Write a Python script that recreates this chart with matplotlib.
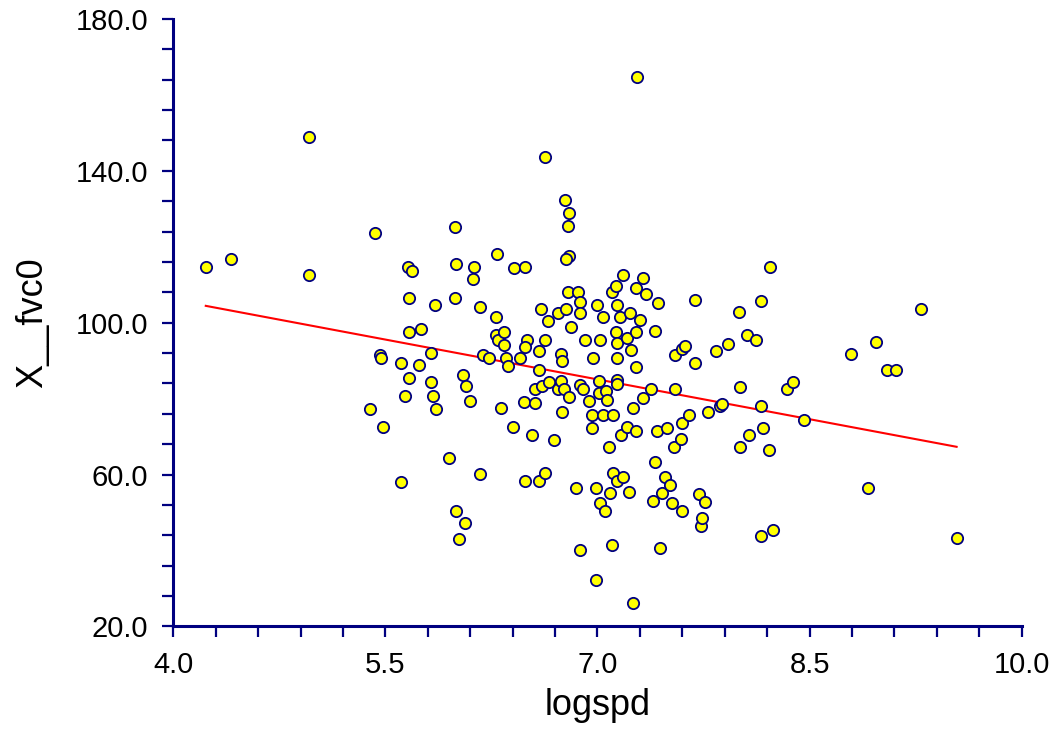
import numpy as np
import matplotlib
matplotlib.use("Agg")
import matplotlib.pyplot as plt
from matplotlib.ticker import FixedLocator, FormatStrFormatter

plt.rcParams["font.family"] = ["Liberation Sans", "DejaVu Sans"]

NAVY = "#000080"
FILL = "#FFFF00"
LINE_RED = "#FF0000"

# logspd values
logspd = [
    4.23, 4.41, 4.96, 4.96, 5.39, 5.48, 5.43, 5.46, 5.47, 5.61,
    5.61, 5.64, 5.66, 5.69, 5.67, 5.67, 5.67, 5.75, 5.74, 5.82,
    5.82, 5.84, 5.85, 5.86, 5.95, 5.99, 6.00, 5.99, 6.00, 6.02,
    6.06, 6.05, 6.07, 6.10, 6.13, 6.12, 6.17, 6.17, 6.19, 6.23,
    6.29, 6.28, 6.28, 6.30, 6.34, 6.34, 6.35, 6.37, 6.32, 6.41,
    6.49, 6.45, 6.40, 6.50, 6.49, 6.48, 6.49, 6.54, 6.56, 6.56,
    6.59, 6.59, 6.59, 6.60, 6.63, 6.63, 6.63, 6.61, 6.65, 6.66,
    6.69, 6.72, 6.72, 6.74, 6.75, 6.74, 6.75, 6.76, 6.77, 6.80,
    6.79, 6.80, 6.78, 6.78, 6.79, 6.81, 6.80, 6.86, 6.88, 6.88,
    6.85, 6.88, 6.90, 6.88, 6.91, 6.94, 6.97, 6.96, 6.96, 6.99,
    6.99, 7.00, 7.01, 7.01, 7.02, 7.02, 7.04, 7.04, 7.05, 7.06,
    7.07, 7.08, 7.09, 7.10, 7.10, 7.11, 7.11, 7.13, 7.13, 7.14,
    7.14, 7.14, 7.14, 7.14, 7.14, 7.16, 7.17, 7.18, 7.18, 7.21,
    7.21, 7.22, 7.23, 7.24, 7.25, 7.25, 7.27, 7.27, 7.27, 7.27,
    7.28, 7.30, 7.32, 7.32, 7.34, 7.38, 7.39, 7.41, 7.41, 7.42,
    7.43, 7.44, 7.46, 7.48, 7.49, 7.51, 7.53, 7.54, 7.55, 7.55,
    7.59, 7.60, 7.60, 7.60, 7.62, 7.65, 7.69, 7.69, 7.72, 7.73,
    7.74, 7.76, 7.78, 7.84, 7.87, 7.88, 7.92, 8.00, 8.01, 8.01,
    8.06, 8.07, 8.12, 8.16, 8.16, 8.17, 8.16, 8.21, 8.22, 8.24,
    8.34, 8.38, 8.46, 8.79, 8.91, 8.97, 9.05, 9.11, 9.29, 9.54,
]

# X__fvc0 values, same order
fvc0 = [
    114.6, 116.8, 148.9, 112.5, 77.4, 72.6, 123.6, 91.4, 90.6, 89.5,
    58.1, 80.7, 114.6, 113.6, 106.5, 97.6, 85.4, 98.4, 88.8, 92.1,
    84.5, 80.7, 104.7, 77.2, 64.3, 125.2, 115.5, 106.6, 50.3, 43.1,
    47.3, 86.2, 83.3, 79.4, 114.6, 111.6, 104.1, 60.2, 91.5, 90.6,
    118.2, 101.6, 96.8, 95.5, 97.6, 94.1, 90.6, 88.6, 77.6, 114.3,
    114.6, 90.6, 72.5, 95.5, 93.5, 79.1, 58.4, 70.4, 78.8, 82.6,
    58.4, 92.6, 87.5, 103.5, 143.6, 95.5, 60.5, 83.3, 100.5, 84.5,
    69.1, 102.5, 82.6, 91.7, 89.8, 84.6, 76.5, 82.6, 132.4, 129.0,
    125.5, 117.6, 116.7, 103.6, 108.2, 98.9, 80.5, 108.2, 105.5, 102.5,
    56.4, 83.5, 82.6, 40.2, 95.5, 79.4, 90.6, 75.6, 72.4, 56.4,
    32.3, 104.6, 84.6, 81.5, 95.5, 52.4, 101.5, 75.6, 50.3, 82.0,
    79.6, 67.4, 55.2, 41.4, 108.1, 75.6, 60.5, 109.7, 97.6, 84.8,
    83.8, 90.6, 104.6, 94.6, 58.4, 101.5, 70.4, 112.6, 59.3, 95.9,
    72.6, 55.4, 102.5, 92.7, 77.6, 26.3, 109.1, 97.6, 88.4, 71.4,
    164.7, 100.8, 111.7, 80.3, 107.5, 82.6, 53.0, 63.4, 97.8, 71.4,
    105.2, 40.7, 55.2, 59.4, 72.4, 57.2, 52.4, 67.4, 91.5, 82.6,
    69.3, 73.7, 93.2, 50.3, 93.9, 75.6, 106.0, 89.5, 55.0, 46.4,
    48.5, 52.9, 76.5, 92.6, 78.0, 78.7, 94.5, 102.7, 83.1, 67.2,
    96.8, 70.3, 95.5, 105.6, 78.0, 72.3, 43.7, 66.5, 114.6, 45.3,
    82.5, 84.5, 74.5, 91.7, 56.4, 94.9, 87.5, 87.5, 103.6, 43.3,
]

x_ticks = [4.0, 5.5, 7.0, 8.5, 10.0]
y_ticks = [20.0, 60.0, 100.0, 140.0, 180.0]

x = np.array(logspd)
y = np.array(fvc0)

fig = plt.figure(figsize=(10.5, 7.31), dpi=100)
ax = fig.add_axes([0.165, 0.143, 0.808, 0.831])

# least-squares line over the data range
slope, icpt = np.polyfit(x, y, 1)
xf = np.array([x.min(), x.max()])
ax.plot(xf, icpt + slope * xf, color=LINE_RED, lw=1.5, zorder=2)

ax.scatter(x, y, s=66, c=FILL, edgecolors=NAVY, linewidths=1.3, zorder=3)

ax.set_xlim(4.0, 10.0)
ax.set_ylim(20.0, 180.0)
ax.xaxis.set_major_locator(FixedLocator(x_ticks))
ax.yaxis.set_major_locator(FixedLocator(y_ticks))
ax.xaxis.set_minor_locator(FixedLocator(np.arange(4.0, 10.01, 0.3)))
ax.yaxis.set_minor_locator(FixedLocator(np.arange(20.0, 180.1, 8.0)))
ax.xaxis.set_major_formatter(FormatStrFormatter("%.1f"))
ax.yaxis.set_major_formatter(FormatStrFormatter("%.1f"))

for side in ("right", "top"):
    ax.spines[side].set_visible(False)
for side in ("left", "bottom"):
    ax.spines[side].set_color(NAVY)
    ax.spines[side].set_linewidth(2.2)

ax.tick_params(which="both", direction="out", length=8, width=1.6, color=NAVY)
ax.tick_params(which="major", labelsize=21, pad=10, labelcolor="black")

ax.set_xlabel("logspd", fontsize=26, labelpad=6)
ax.set_ylabel("X__fvc0", fontsize=26, labelpad=18)

fig.savefig("out.png", dpi=100, facecolor="white")
